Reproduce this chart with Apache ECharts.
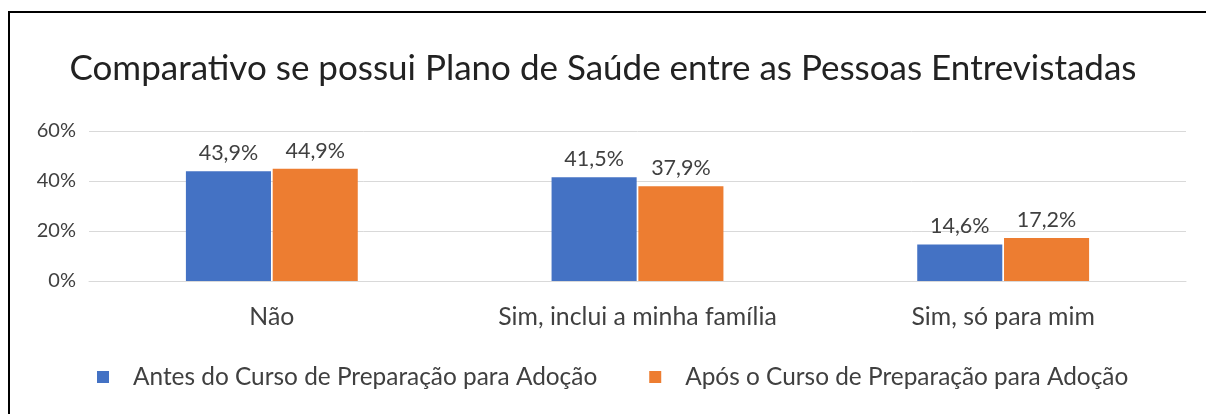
<!DOCTYPE html>
<html>
<head>
<meta charset="utf-8">
<script src="https://cdn.jsdelivr.net/npm/echarts@6/dist/echarts.min.js"></script>
<style>
    html, body { margin: 0; padding: 0; background: #fff; }
    #chart { width: 1206px; height: 414px; }
</style>
</head>
<body>
<div id="chart"></div>
<script>
const categories = ['Não', 'Sim, inclui a minha família', 'Sim, só para mim']
const seriesNames = ['Antes do Curso de Preparação para Adoção', 'Após o Curso de Preparação para Adoção']
const antes = [43.9, 41.5, 14.6]
const apos = [44.9, 37.9, 17.2]
const yTicks = [0, 20, 40, 60]

const font = 'Lato, "Open Sans", sans-serif'
const textColor = '#404040'

const chart = echarts.init(document.getElementById('chart'))

const labelFmt = p => p.value.toFixed(1).replace('.', ',') + '%'

const option = {
    animation: false,
    textStyle: { fontFamily: font },
    title: {
        text: 'Comparativo se possui Plano de Saúde entre as Pessoas Entrevistadas',
        left: 'center',
        top: 46,
        textStyle: {
            fontFamily: font,
            fontSize: 35,
            fontWeight: 'normal',
            color: '#222'
        }
    },
    graphic: [
        {
            type: 'rect',
            shape: { x: 9, y: 12, width: 1400, height: 600 },
            style: { fill: 'none', stroke: '#000', lineWidth: 2 },
            silent: true
        }
    ],
    legend: {
        top: 360,
        left: 92,
        itemWidth: 12,
        itemHeight: 12,
        itemGap: 52,
        icon: 'rect',
        textStyle: { fontFamily: font, fontSize: 24.4, color: textColor, padding: [0, 0, 0, 19] }
    },
    grid: {
        left: 89,
        right: 20,
        top: 131,
        bottom: 133
    },
    xAxis: {
        type: 'category',
        data: categories,
        axisLine: { lineStyle: { color: '#d9d9d9', width: 1 } },
        axisTick: { show: false },
        axisLabel: { fontFamily: font, fontSize: 24.8, color: textColor, margin: 24 }
    },
    yAxis: {
        type: 'value',
        min: yTicks[0],
        max: yTicks[yTicks.length - 1],
        interval: 20,
        axisLine: { show: false },
        axisTick: { show: false },
        axisLabel: { fontFamily: font, fontSize: 20, color: textColor, margin: 13, formatter: '{value}%' },
        splitLine: { lineStyle: { color: '#d9d9d9', width: 1 } }
    },
    series: [
        {
            name: seriesNames[0],
            type: 'bar',
            data: antes,
            barGap: '2%',
            barCategoryGap: '53%',
            itemStyle: { color: '#4472C4' },
            label: { show: true, position: 'top', distance: 7, fontFamily: font, fontSize: 21.5, color: textColor, formatter: labelFmt }
        },
        {
            name: seriesNames[1],
            type: 'bar',
            data: apos,
            itemStyle: { color: '#ED7D31' },
            label: { show: true, position: 'top', distance: 7, fontFamily: font, fontSize: 21.5, color: textColor, formatter: labelFmt }
        }
    ]
}

chart.setOption(option)
</script>
</body>
</html>
